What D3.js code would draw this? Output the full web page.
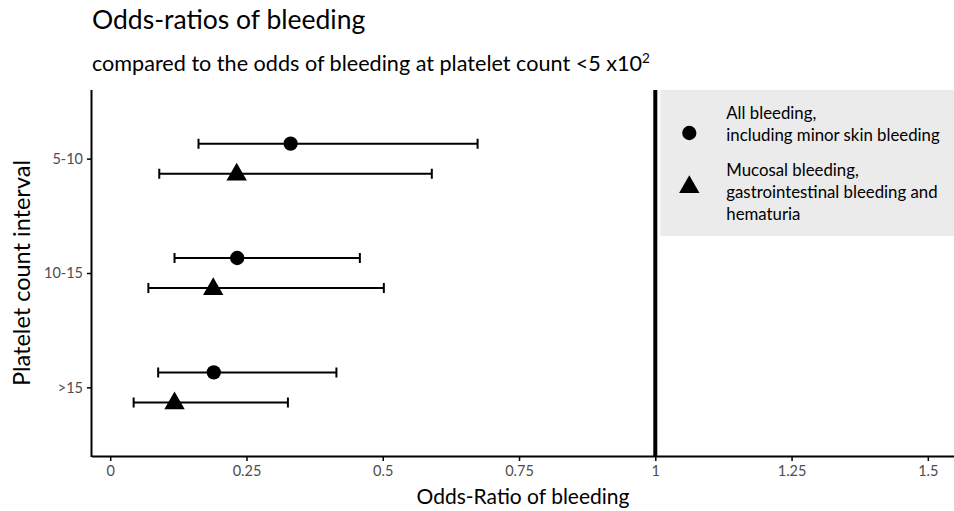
<!DOCTYPE html>
<meta charset="utf-8">
<title>Odds-ratios of bleeding</title>
<style>
body { margin: 0; background: #fff; }
text { font-family: Lato, "Open Sans", sans-serif; }
.errbar { stroke: #000; stroke-width: 2px; fill: none; }
</style>
<body>
<div id="chart"></div>
<script src="https://cdn.jsdelivr.net/npm/d3@7"></script>
<script>

// data
const intervals = ["5-10", "10-15", ">15"];
const groups = ["all", "mucosal"];
const allEst   = [0.331, 0.233, 0.190];
const allLow   = [0.162, 0.118, 0.088];
const allHigh  = [0.674, 0.458, 0.415];
const mucEst   = [0.232, 0.189, 0.118];
const mucLow   = [0.090, 0.070, 0.043];
const mucHigh  = [0.590, 0.502, 0.326];
const xTicks = [0, 0.25, 0.5, 0.75, 1, 1.25, 1.5];
const xTickLabels = ["0", "0.25", "0.5", "0.75", "1", "1.25", "1.5"];
const refLine = 1;
const legendLabels = [
    ["All bleeding,", "including minor skin bleeding"],
    ["Mucosal bleeding,", "gastrointestinal bleeding and", "hematuria"]
];

const rows = [];
intervals.forEach((c, i) => {
    rows.push({cat: c, group: "all", est: allEst[i], lo: allLow[i], hi: allHigh[i]});
    rows.push({cat: c, group: "mucosal", est: mucEst[i], lo: mucLow[i], hi: mucHigh[i]});
});

const width = 954, height = 511;
const margin = {top: 90, right: 0, bottom: 55, left: 92};
const chartW = width - margin.left - margin.right;
const chartH = height - margin.top - margin.bottom;

const svg = d3.select("#chart").append("svg")
    .attr("width", width)
    .attr("height", height);

// titles
svg.append("text")
    .attr("x", 92).attr("y", 29)
    .attr("font-size", 26.5)
    .text("Odds-ratios of bleeding");

const sub = svg.append("text")
    .attr("x", 92).attr("y", 71)
    .attr("font-size", 21.6);
sub.append("tspan").text("compared to the odds of bleeding at platelet count <5 x10");
sub.append("tspan").attr("font-size", 13.5).attr("dy", -8).text("2");

const g = svg.append("g")
    .attr("transform", `translate(${margin.left},${margin.top})`);

// scales
const x = d3.scaleLinear()
    .domain([-0.0334, 1.548])
    .range([0, chartW]);

const y = d3.scalePoint()
    .domain(intervals)
    .range([0, chartH])
    .padding(0.6);

const dodge = d3.scalePoint()
    .domain(groups)
    .range([-15, 15]);

// legend background
const legend = g.append("g")
    .attr("transform", `translate(${x(refLine) + 5},0)`);
legend.append("rect")
    .attr("width", chartW - x(refLine) - 5)
    .attr("height", 146)
    .attr("fill", "#ebebeb");

// reference line at OR = 1
g.append("line")
    .attr("x1", x(refLine)).attr("x2", x(refLine))
    .attr("y1", 0).attr("y2", chartH)
    .attr("stroke", "#000")
    .attr("stroke-width", 4);

// axes
const xAxis = g.append("g")
    .attr("transform", `translate(0,${chartH})`)
    .call(d3.axisBottom(x).tickValues(xTicks)
        .tickFormat((d, i) => xTickLabels[i]).tickSize(5).tickPadding(5));
xAxis.select(".domain").attr("stroke-width", 2).attr("d", `M0,0.5H${chartW}`);

const yAxis = g.append("g")
    .call(d3.axisLeft(y).tickSize(5).tickPadding(4));
yAxis.select(".domain").attr("stroke-width", 2).attr("d", `M-0.5,0V${chartH + 1}`);

[xAxis, yAxis].forEach(ax => {
    ax.attr("font-family", null);
    ax.selectAll(".tick line").attr("stroke-width", 1.5);
    ax.selectAll(".tick text")
        .style("font-size", "14.5px")
        .style("font-family", "Lato, 'Open Sans', sans-serif")
        .attr("fill", "#4d4d4d");
});

svg.append("text")
    .attr("x", margin.left + chartW / 2)
    .attr("y", 504)
    .attr("text-anchor", "middle")
    .attr("font-size", 21)
    .text("Odds-Ratio of bleeding");

svg.append("text")
    .attr("transform", `translate(30,${margin.top + chartH / 2}) rotate(-90)`)
    .attr("text-anchor", "middle")
    .attr("font-size", 23.5)
    .text("Platelet count interval");

// error bars
const capH = 5;
const bars = g.selectAll(".bar")
    .data(rows)
    .enter().append("g")
    .attr("class", "bar")
    .attr("transform", d => `translate(0,${y(d.cat) + dodge(d.group)})`);

bars.append("path")
    .attr("class", "errbar")
    .attr("d", d => `M${x(d.lo)},0H${x(d.hi)}M${x(d.lo)},${-capH}V${capH}M${x(d.hi)},${-capH}V${capH}`);

const shape = {
    all: d3.symbol().type(d3.symbolCircle).size(160),
    mucosal: d3.symbol().type(d3.symbolTriangle).size(180)
};

bars.append("path")
    .attr("transform", d => `translate(${x(d.est)},${d.group === "mucosal" ? 1 : 0})`)
    .attr("d", d => shape[d.group]())
    .attr("fill", "#000");

// legend entries
const legendKeyY = [43, 96];
const legendTextY = [[29, 51], [86, 108, 130]];
groups.forEach((grp, i) => {
    const item = legend.append("g");
    item.append("path")
        .attr("transform", `translate(29,${legendKeyY[i] + (grp === "mucosal" ? 1 : 0)})`)
        .attr("d", shape[grp]())
        .attr("fill", "#000");
    item.selectAll("text")
        .data(legendLabels[i])
        .enter().append("text")
        .attr("x", 66)
        .attr("y", (d, j) => legendTextY[i][j])
        .attr("font-size", 16.8)
        .text(d => d);
});

</script>
</body>
